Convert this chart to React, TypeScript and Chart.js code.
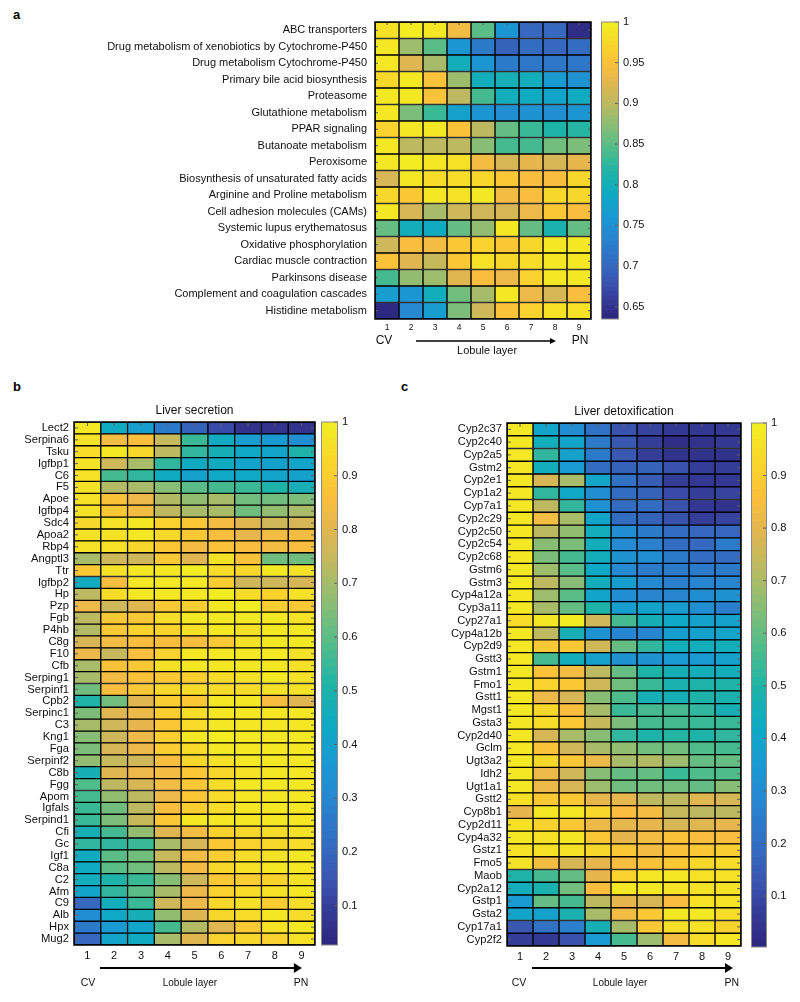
import React, { useEffect, useRef } from 'react';
import { Chart, registerables } from 'chart.js';

Chart.register(...registerables);
Chart.defaults.font.family = "'Liberation Sans', Arial, Helvetica, sans-serif";

const TEXT = '#111';
const FONT = "'Liberation Sans', Arial, Helvetica, sans-serif";

// ---------- data ----------
const LAYERS = ['1', '2', '3', '4', '5', '6', '7', '8', '9'];

const PATHWAYS = [
  'ABC transporters',
  'Drug metabolism of xenobiotics by Cytochrome-P450',
  'Drug metabolism Cytochrome-P450',
  'Primary bile acid biosynthesis',
  'Proteasome',
  'Glutathione metabolism',
  'PPAR signaling',
  'Butanoate metabolism',
  'Peroxisome',
  'Biosynthesis of unsaturated fatty acids',
  'Arginine and Proline metabolism',
  'Cell adhesion molecules (CAMs)',
  'Systemic lupus erythematosus',
  'Oxidative phosphorylation',
  'Cardiac muscle contraction',
  'Parkinsons disease',
  'Complement and coagulation cascades',
  'Histidine metabolism',
];
const PATHWAY_VALUES = [
  [0.985, 0.995, 0.99, 0.94, 0.85, 0.755, 0.7, 0.7, 0.645],
  [0.99, 0.885, 0.85, 0.755, 0.725, 0.695, 0.705, 0.7, 0.705],
  [0.99, 0.925, 0.89, 0.795, 0.755, 0.725, 0.72, 0.715, 0.72],
  [0.975, 0.99, 0.95, 0.885, 0.8, 0.805, 0.795, 0.765, 0.75],
  [0.99, 0.99, 0.95, 0.9, 0.835, 0.8, 0.79, 0.78, 0.79],
  [0.99, 0.865, 0.83, 0.775, 0.76, 0.745, 0.75, 0.748, 0.758],
  [0.97, 0.99, 0.99, 0.95, 0.9, 0.855, 0.832, 0.815, 0.82],
  [0.99, 0.9, 0.9, 0.9, 0.87, 0.835, 0.835, 0.86, 0.865],
  [0.99, 0.995, 0.99, 0.985, 0.94, 0.92, 0.93, 0.92, 0.93],
  [0.915, 0.99, 0.98, 0.98, 0.975, 0.955, 0.945, 0.948, 0.975],
  [0.975, 0.955, 0.99, 0.985, 0.99, 0.94, 0.945, 0.975, 0.975],
  [0.99, 0.915, 0.89, 0.91, 0.91, 0.915, 0.935, 0.955, 0.945],
  [0.855, 0.8, 0.79, 0.855, 0.88, 0.99, 0.855, 0.81, 0.855],
  [0.91, 0.945, 0.94, 0.955, 0.97, 0.955, 0.975, 0.99, 0.99],
  [0.95, 0.925, 0.905, 0.955, 0.985, 0.975, 0.98, 0.99, 0.99],
  [0.835, 0.88, 0.885, 0.925, 0.945, 0.935, 0.97, 0.99, 0.99],
  [0.77, 0.755, 0.795, 0.86, 0.89, 0.99, 0.935, 0.915, 0.945],
  [0.64, 0.74, 0.77, 0.865, 0.91, 0.95, 0.97, 0.985, 0.985],
];
const PATHWAY_TICKS = [0.65, 0.7, 0.75, 0.8, 0.85, 0.9, 0.95, 1];

const SECRETION_GENES = [
  'Lect2', 'Serpina6', 'Tsku', 'Igfbp1', 'C6', 'F5', 'Apoe', 'Igfbp4', 'Sdc4', 'Apoa2', 'Rbp4',
  'Angptl3', 'Ttr', 'Igfbp2', 'Hp', 'Pzp', 'Fgb', 'P4hb', 'C8g', 'F10', 'Cfb', 'Serping1',
  'Serpinf1', 'Cpb2', 'Serpinc1', 'C3', 'Kng1', 'Fga', 'Serpinf2', 'C8b', 'Fgg', 'Apom',
  'Igfals', 'Serpind1', 'Cfi', 'Gc', 'Igf1', 'C8a', 'C2', 'Afm', 'C9', 'Alb', 'Hpx', 'Mug2',
];
const SECRETION_VALUES = [
  [0.97, 0.45, 0.38, 0.27, 0.19, 0.12, 0.06, 0.07, 0.07],
  [0.96, 0.84, 0.86, 0.75, 0.55, 0.45, 0.38, 0.37, 0.33],
  [0.95, 0.97, 0.93, 0.74, 0.53, 0.47, 0.43, 0.41, 0.5],
  [0.96, 0.77, 0.7, 0.54, 0.45, 0.45, 0.41, 0.4, 0.41],
  [0.96, 0.57, 0.53, 0.44, 0.4, 0.43, 0.43, 0.41, 0.4],
  [0.96, 0.72, 0.7, 0.66, 0.6, 0.57, 0.55, 0.5, 0.47],
  [0.96, 0.87, 0.82, 0.72, 0.68, 0.7, 0.63, 0.62, 0.65],
  [0.96, 0.88, 0.84, 0.74, 0.7, 0.7, 0.62, 0.67, 0.7],
  [0.93, 0.96, 0.97, 0.92, 0.88, 0.84, 0.79, 0.77, 0.78],
  [0.96, 0.96, 0.97, 0.93, 0.88, 0.85, 0.81, 0.84, 0.84],
  [0.96, 0.96, 0.93, 0.89, 0.84, 0.87, 0.85, 0.84, 0.85],
  [0.7, 0.76, 0.77, 0.88, 0.8, 0.96, 0.87, 0.63, 0.63],
  [0.88, 0.96, 0.97, 0.97, 0.99, 0.94, 0.93, 0.98, 0.96],
  [0.45, 0.85, 0.97, 0.97, 0.97, 0.9, 0.76, 0.76, 0.78],
  [0.73, 0.95, 0.97, 0.97, 0.97, 0.99, 0.95, 0.92, 0.96],
  [0.83, 0.77, 0.8, 0.89, 0.9, 0.97, 0.99, 0.9, 0.89],
  [0.74, 0.88, 0.89, 0.94, 0.97, 0.98, 0.97, 0.97, 0.96],
  [0.72, 0.88, 0.91, 0.91, 0.96, 0.98, 0.96, 0.97, 0.97],
  [0.78, 0.84, 0.85, 0.85, 0.85, 0.88, 0.96, 0.97, 0.97],
  [0.82, 0.75, 0.85, 0.92, 0.97, 0.98, 0.97, 0.97, 0.96],
  [0.7, 0.87, 0.89, 0.96, 0.97, 0.98, 0.97, 0.97, 0.96],
  [0.7, 0.84, 0.87, 0.89, 0.9, 0.95, 0.96, 0.97, 0.96],
  [0.63, 0.85, 0.88, 0.93, 0.95, 0.95, 0.95, 0.96, 0.96],
  [0.5, 0.63, 0.8, 0.9, 0.88, 0.97, 0.98, 0.86, 0.8],
  [0.64, 0.79, 0.83, 0.9, 0.95, 0.98, 0.98, 0.97, 0.97],
  [0.7, 0.76, 0.81, 0.88, 0.95, 0.97, 0.98, 0.97, 0.97],
  [0.66, 0.76, 0.82, 0.9, 0.97, 0.99, 0.98, 0.97, 0.98],
  [0.64, 0.78, 0.82, 0.9, 0.95, 0.98, 0.98, 0.97, 0.98],
  [0.67, 0.75, 0.77, 0.86, 0.93, 0.96, 0.97, 0.97, 0.98],
  [0.47, 0.79, 0.83, 0.84, 0.89, 0.93, 0.96, 0.98, 0.98],
  [0.58, 0.73, 0.78, 0.84, 0.88, 0.95, 0.97, 0.97, 0.98],
  [0.57, 0.68, 0.74, 0.83, 0.89, 0.95, 0.97, 0.98, 0.98],
  [0.55, 0.63, 0.74, 0.86, 0.9, 0.95, 0.97, 0.97, 0.98],
  [0.55, 0.65, 0.75, 0.88, 0.98, 0.97, 0.97, 0.97, 0.97],
  [0.47, 0.57, 0.67, 0.8, 0.84, 0.92, 0.93, 0.95, 0.96],
  [0.53, 0.53, 0.55, 0.7, 0.78, 0.88, 0.92, 0.93, 0.95],
  [0.45, 0.6, 0.62, 0.75, 0.84, 0.9, 0.95, 0.96, 0.97],
  [0.44, 0.59, 0.62, 0.74, 0.84, 0.93, 0.96, 0.97, 0.97],
  [0.46, 0.5, 0.55, 0.66, 0.76, 0.89, 0.9, 0.92, 0.96],
  [0.42, 0.53, 0.6, 0.7, 0.83, 0.92, 0.95, 0.96, 0.97],
  [0.2, 0.46, 0.55, 0.76, 0.82, 0.93, 0.96, 0.9, 0.94],
  [0.33, 0.43, 0.47, 0.68, 0.8, 0.93, 0.95, 0.97, 0.95],
  [0.27, 0.37, 0.42, 0.56, 0.72, 0.8, 0.88, 0.96, 0.97],
  [0.2, 0.42, 0.45, 0.7, 0.8, 0.91, 0.93, 0.92, 0.96],
];

const DETOX_GENES = [
  'Cyp2c37', 'Cyp2c40', 'Cyp2a5', 'Gstm2', 'Cyp2e1', 'Cyp1a2', 'Cyp7a1', 'Cyp2c29', 'Cyp2c50',
  'Cyp2c54', 'Cyp2c68', 'Gstm6', 'Gstm3', 'Cyp4a12a', 'Cyp3a11', 'Cyp27a1', 'Cyp4a12b', 'Cyp2d9',
  'Gstt3', 'Gstm1', 'Fmo1', 'Gstt1', 'Mgst1', 'Gsta3', 'Cyp2d40', 'Gclm', 'Ugt3a2', 'Idh2',
  'Ugt1a1', 'Gstt2', 'Cyp8b1', 'Cyp2d11', 'Cyp4a32', 'Gstz1', 'Fmo5', 'Maob', 'Cyp2a12', 'Gstp1',
  'Gsta2', 'Cyp17a1', 'Cyp2f2',
];
const DETOX_VALUES = [
  [0.97, 0.4, 0.3, 0.22, 0.12, 0.09, 0.06, 0.05, 0.05],
  [0.97, 0.44, 0.4, 0.24, 0.13, 0.07, 0.03, 0.04, 0.05],
  [0.97, 0.53, 0.39, 0.24, 0.13, 0.08, 0.04, 0.04, 0.04],
  [0.97, 0.45, 0.36, 0.2, 0.17, 0.17, 0.12, 0.08, 0.08],
  [0.97, 0.78, 0.7, 0.4, 0.22, 0.15, 0.07, 0.05, 0.05],
  [0.97, 0.53, 0.41, 0.3, 0.2, 0.16, 0.1, 0.08, 0.09],
  [0.97, 0.72, 0.53, 0.32, 0.2, 0.19, 0.12, 0.06, 0.04],
  [0.97, 0.84, 0.7, 0.4, 0.2, 0.17, 0.12, 0.07, 0.09],
  [0.97, 0.72, 0.66, 0.44, 0.3, 0.25, 0.2, 0.18, 0.18],
  [0.97, 0.65, 0.63, 0.44, 0.29, 0.26, 0.2, 0.18, 0.24],
  [0.97, 0.63, 0.56, 0.44, 0.33, 0.31, 0.24, 0.2, 0.2],
  [0.97, 0.68, 0.58, 0.42, 0.29, 0.25, 0.24, 0.25, 0.24],
  [0.97, 0.72, 0.65, 0.45, 0.37, 0.29, 0.26, 0.27, 0.27],
  [0.97, 0.68, 0.58, 0.4, 0.3, 0.27, 0.28, 0.3, 0.32],
  [0.97, 0.69, 0.61, 0.5, 0.37, 0.4, 0.37, 0.3, 0.26],
  [0.94, 0.97, 0.99, 0.76, 0.55, 0.46, 0.41, 0.39, 0.39],
  [0.97, 0.72, 0.47, 0.32, 0.27, 0.28, 0.37, 0.39, 0.4],
  [0.97, 0.88, 0.89, 0.76, 0.61, 0.53, 0.45, 0.44, 0.45],
  [0.97, 0.55, 0.45, 0.38, 0.33, 0.32, 0.35, 0.36, 0.39],
  [0.97, 0.86, 0.83, 0.72, 0.6, 0.49, 0.46, 0.45, 0.45],
  [0.97, 0.92, 0.88, 0.76, 0.62, 0.54, 0.48, 0.49, 0.5],
  [0.97, 0.82, 0.77, 0.65, 0.57, 0.47, 0.46, 0.5, 0.48],
  [0.97, 0.93, 0.85, 0.7, 0.54, 0.55, 0.56, 0.52, 0.47],
  [0.97, 0.94, 0.88, 0.75, 0.63, 0.55, 0.55, 0.54, 0.54],
  [0.97, 0.77, 0.7, 0.65, 0.53, 0.5, 0.51, 0.5, 0.53],
  [0.97, 0.86, 0.76, 0.7, 0.66, 0.62, 0.62, 0.57, 0.55],
  [0.97, 0.93, 0.89, 0.82, 0.69, 0.71, 0.68, 0.61, 0.6],
  [0.97, 0.82, 0.76, 0.65, 0.6, 0.6, 0.54, 0.57, 0.57],
  [0.97, 0.82, 0.77, 0.68, 0.62, 0.62, 0.62, 0.61, 0.65],
  [0.96, 0.88, 0.89, 0.81, 0.8, 0.72, 0.73, 0.79, 0.77],
  [0.81, 0.97, 0.98, 0.93, 0.85, 0.84, 0.75, 0.72, 0.73],
  [0.96, 0.92, 0.88, 0.82, 0.81, 0.8, 0.77, 0.79, 0.8],
  [0.97, 0.96, 0.97, 0.88, 0.8, 0.83, 0.87, 0.85, 0.85],
  [0.96, 0.96, 0.96, 0.93, 0.89, 0.84, 0.87, 0.88, 0.9],
  [0.96, 0.84, 0.77, 0.8, 0.85, 0.86, 0.89, 0.93, 0.95],
  [0.5, 0.55, 0.6, 0.8, 0.92, 0.97, 0.97, 0.96, 0.96],
  [0.44, 0.48, 0.62, 0.85, 0.97, 0.97, 0.96, 0.96, 0.96],
  [0.36, 0.6, 0.56, 0.72, 0.8, 0.77, 0.85, 0.96, 0.96],
  [0.4, 0.38, 0.48, 0.7, 0.84, 0.89, 0.97, 0.97, 0.95],
  [0.13, 0.22, 0.26, 0.46, 0.7, 0.89, 0.96, 0.96, 0.91],
  [0.07, 0.05, 0.12, 0.36, 0.55, 0.68, 0.84, 0.95, 0.97],
];
const UNIT_TICKS = [0.1, 0.2, 0.3, 0.4, 0.5, 0.6, 0.7, 0.8, 0.9, 1];

// ---------- colormap: parula-like, as printed in the reference (anchors t, r, g, b) ----------
const CMAP_ANCHORS: number[][] = [
  [0.0, 45, 40, 128],
  [0.06, 52, 60, 152],
  [0.12, 58, 86, 176],
  [0.2, 50, 112, 196],
  [0.28, 38, 136, 210],
  [0.35, 25, 155, 210],
  [0.42, 14, 170, 196],
  [0.5, 32, 180, 166],
  [0.57, 78, 188, 140],
  [0.64, 128, 190, 120],
  [0.72, 182, 186, 98],
  [0.8, 228, 182, 80],
  [0.86, 250, 190, 60],
  [0.92, 250, 210, 45],
  [1.0, 242, 236, 34],
];
const NCOL = 64;

function anchorColor(t: number) {
  for (let k = 1; k < CMAP_ANCHORS.length; k++) {
    const a = CMAP_ANCHORS[k - 1];
    const b = CMAP_ANCHORS[k];
    if (t <= b[0]) {
      const f = (t - a[0]) / (b[0] - a[0]);
      return [1, 2, 3].map((c) => Math.round(a[c] + f * (b[c] - a[c])));
    }
  }
  const l = CMAP_ANCHORS[CMAP_ANCHORS.length - 1];
  return [l[1], l[2], l[3]];
}
function cmapIndex(i: number) {
  const [r, g, b] = anchorColor(i / (NCOL - 1));
  return `rgb(${r},${g},${b})`;
}
function cellColor(v: number, cmin: number, cmax: number) {
  let t = (v - cmin) / (cmax - cmin);
  t = Math.max(0, Math.min(1, t));
  return cmapIndex(Math.min(NCOL - 1, Math.floor(t * NCOL)));
}

// ---------- heatmap ----------
type Annot = {
  arrowDy: number; textDy: number; lobDy: number;
  cvX: number; fromX: number; toX: number; lobX: number; pnX: number;
  cvFont: number; lobFont: number; headLen: number; headW: number; lineW: number;
};

type HeatProps = {
  left: number; top: number; width: number; height: number;
  rows: string[]; values: number[][]; cmin: number; cmax: number;
  yAxisWidth: number; xAxisHeight: number; padTop: number; padRight: number;
  yFont: number; yPad: number; xFont: number; xPad: number; tickLen: number;
  title?: string; titleDy?: number; annot: Annot;
};

function Heatmap(p: HeatProps) {
  const ref = useRef<HTMLCanvasElement>(null);
  useEffect(() => {
    const datasets = LAYERS.map((_, j) => ({
      data: p.rows.map(() => 1),
      backgroundColor: p.values.map((r) => cellColor(r[j], p.cmin, p.cmax)),
      borderColor: '#000',
      borderWidth: 1,
      borderSkipped: false,
      barPercentage: 1,
      categoryPercentage: 1,
    }));
    const plugin = {
      id: 'heatAnnot',
      afterDraw(chart: any) {
        const { ctx, chartArea: a, scales } = chart;
        const xs = scales.x;
        const ys = scales.y;
        ctx.save();
        ctx.strokeStyle = '#606060';
        ctx.lineWidth = 1;
        ctx.beginPath();
        p.rows.forEach((_, i) => {
          const y = ys.getPixelForValue(i);
          ctx.moveTo(a.left, y);
          ctx.lineTo(a.left + p.tickLen, y);
          ctx.moveTo(a.right, y);
          ctx.lineTo(a.right - p.tickLen, y);
        });
        LAYERS.forEach((_, j) => {
          const x = xs.getPixelForValue(j + 0.5);
          ctx.moveTo(x, a.top);
          ctx.lineTo(x, a.top + p.tickLen);
        });
        ctx.stroke();
        ctx.strokeStyle = '#000';
        ctx.lineWidth = 1.5;
        ctx.strokeRect(a.left, a.top, a.right - a.left, a.bottom - a.top);

        ctx.fillStyle = TEXT;
        ctx.textBaseline = 'middle';
        ctx.textAlign = 'center';
        if (p.title) {
          ctx.font = `12px ${FONT}`;
          ctx.fillText(p.title, (a.left + a.right) / 2, a.top - (p.titleDy || 11));
        }
        const an = p.annot;
        ctx.font = `${an.cvFont}px ${FONT}`;
        ctx.fillText('CV', xs.getPixelForValue(an.cvX), a.bottom + an.textDy);
        ctx.fillText('PN', xs.getPixelForValue(an.pnX), a.bottom + an.textDy);
        ctx.font = `${an.lobFont}px ${FONT}`;
        ctx.fillText('Lobule layer', xs.getPixelForValue(an.lobX), a.bottom + an.lobDy);
        const ay = a.bottom + an.arrowDy;
        const x0 = xs.getPixelForValue(an.fromX);
        const x1 = xs.getPixelForValue(an.toX);
        ctx.strokeStyle = '#000';
        ctx.lineWidth = an.lineW;
        ctx.beginPath();
        ctx.moveTo(x0, ay);
        ctx.lineTo(x1 - an.headLen + 1, ay);
        ctx.stroke();
        ctx.fillStyle = '#000';
        ctx.beginPath();
        ctx.moveTo(x1, ay);
        ctx.lineTo(x1 - an.headLen, ay - an.headW / 2);
        ctx.lineTo(x1 - an.headLen, ay + an.headW / 2);
        ctx.closePath();
        ctx.fill();
        ctx.restore();
      },
    };
    const chart = new Chart(ref.current as HTMLCanvasElement, {
      type: 'bar',
      data: { labels: p.rows, datasets: datasets as any },
      options: {
        indexAxis: 'y',
        animation: false,
        responsive: false,
        events: [],
        layout: { padding: { top: p.padTop, right: p.padRight, left: 0, bottom: 0 } },
        plugins: { legend: { display: false }, tooltip: { enabled: false } },
        scales: {
          x: {
            type: 'linear',
            stacked: true,
            min: 0,
            max: 9,
            grid: { display: false, drawTicks: false },
            border: { display: false },
            afterBuildTicks: (s: any) => {
              s.ticks = LAYERS.map((_, i) => ({ value: i + 0.5 }));
            },
            afterFit: (s: any) => {
              s.height = p.xAxisHeight;
            },
            ticks: {
              autoSkip: false,
              maxRotation: 0,
              padding: p.xPad,
              font: { size: p.xFont },
              color: TEXT,
              callback: (_v: any, i: number) => LAYERS[i],
            },
          },
          y: {
            type: 'category',
            stacked: true,
            grid: { display: false, drawTicks: false },
            border: { display: false },
            afterFit: (s: any) => {
              s.width = p.yAxisWidth;
            },
            ticks: { autoSkip: false, padding: p.yPad, font: { size: p.yFont }, color: TEXT },
          },
        },
      } as any,
      plugins: [plugin],
    });
    return () => chart.destroy();
  }, []);
  return (
    <canvas
      ref={ref}
      width={p.width}
      height={p.height}
      style={{ position: 'absolute', left: p.left, top: p.top }}
    />
  );
}

// ---------- colorbar ----------
type CbProps = {
  left: number; top: number; width: number; height: number;
  cmin: number; cmax: number; ticks: number[];
  padTop: number; padLeft: number; padBottom: number; axisWidth: number; font: number;
};

function Colorbar(p: CbProps) {
  const ref = useRef<HTMLCanvasElement>(null);
  useEffect(() => {
    const plugin = {
      id: 'cbAnnot',
      afterDraw(chart: any) {
        const { ctx, chartArea: a, scales } = chart;
        ctx.save();
        ctx.strokeStyle = '#606060';
        ctx.lineWidth = 1;
        ctx.beginPath();
        p.ticks.forEach((v) => {
          const y = scales.y.getPixelForValue(v);
          ctx.moveTo(a.right, y);
          ctx.lineTo(a.right - 4, y);
        });
        ctx.stroke();
        ctx.strokeStyle = '#8a8a8a';
        ctx.strokeRect(a.left + 0.5, a.top, a.right - a.left - 1, a.bottom - a.top);
        ctx.restore();
      },
    };
    const chart = new Chart(ref.current as HTMLCanvasElement, {
      type: 'bar',
      data: {
        labels: [''],
        datasets: [
          {
            data: [[p.cmin, p.cmax]],
            backgroundColor: (c: any) => {
              const area = c.chart.chartArea;
              if (!area) return '#888';
              const g = c.chart.ctx.createLinearGradient(0, area.bottom, 0, area.top);
              for (let i = 0; i < NCOL; i++) {
                const col = cmapIndex(i);
                g.addColorStop(i / NCOL, col);
                g.addColorStop(Math.min(1, (i + 1) / NCOL - 0.0001), col);
              }
              return g;
            },
            borderWidth: 0,
            barPercentage: 1,
            categoryPercentage: 1,
          },
        ],
      },
      options: {
        animation: false,
        responsive: false,
        events: [],
        layout: { padding: { top: p.padTop, left: p.padLeft, bottom: p.padBottom, right: 0 } },
        plugins: { legend: { display: false }, tooltip: { enabled: false } },
        scales: {
          x: { display: false },
          y: {
            position: 'right',
            min: p.cmin,
            max: p.cmax,
            grid: { display: false, drawTicks: false },
            border: { display: false },
            afterBuildTicks: (s: any) => {
              s.ticks = p.ticks.map((v) => ({ value: v }));
            },
            afterFit: (s: any) => {
              s.width = p.axisWidth;
            },
            ticks: {
              padding: 4,
              font: { size: p.font },
              color: TEXT,
              callback: (v: any) => String(+(+v).toFixed(2)),
            },
          },
        },
      } as any,
      plugins: [plugin],
    });
    return () => chart.destroy();
  }, []);
  return (
    <canvas
      ref={ref}
      width={p.width}
      height={p.height}
      style={{ position: 'absolute', left: p.left, top: p.top }}
    />
  );
}

const labelStyle = (left: number, top: number): React.CSSProperties => ({
  position: 'absolute',
  left,
  top,
  fontFamily: FONT,
  fontWeight: 'bold',
  fontSize: 13,
  color: '#000',
  lineHeight: '14px',
});

export default function App() {
  return (
    <div style={{ position: 'absolute', left: 0, top: 0, width: 800, height: 1002, background: '#fff', overflow: 'hidden' }}>
      <div style={labelStyle(13, 8)}>a</div>
      <div style={labelStyle(13, 380)}>b</div>
      <div style={labelStyle(401, 380)}>c</div>

      <Heatmap
        left={0} top={0} width={600} height={370}
        rows={PATHWAYS} values={PATHWAY_VALUES} cmin={0.635} cmax={1}
        yAxisWidth={375} xAxisHeight={51} padTop={22} padRight={9}
        yFont={11} yPad={8} xFont={8.5} xPad={4} tickLen={3}
        annot={{ arrowDy: 22, textDy: 22, lobDy: 32, cvX: 0.375, fromX: 1.71, toX: 7.54, lobX: 4.67, pnX: 8.54,
          cvFont: 12, lobFont: 11, headLen: 6, headW: 6, lineW: 1.5 }}
      />
      <Colorbar
        left={595} top={0} width={80} height={340}
        cmin={0.635} cmax={1} ticks={PATHWAY_TICKS}
        padTop={22} padLeft={6} padBottom={21} axisWidth={56} font={11}
      />

      <Heatmap
        left={0} top={395} width={320} height={607}
        rows={SECRETION_GENES} values={SECRETION_VALUES} cmin={0.027} cmax={1}
        yAxisWidth={74} xAxisHeight={57} padTop={27} padRight={5}
        yFont={11.2} yPad={5} xFont={11} xPad={4} tickLen={4}
        title="Liver secretion" titleDy={11}
        annot={{ arrowDy: 23, textDy: 38, lobDy: 38, cvX: 0.52, fromX: 0.97, toX: 8.51, lobX: 4.33, pnX: 8.48,
          cvFont: 10.5, lobFont: 10, headLen: 8, headW: 10, lineW: 2 }}
      />
      <Colorbar
        left={315} top={395} width={60} height={607}
        cmin={0.027} cmax={1} ticks={UNIT_TICKS}
        padTop={27} padLeft={6} padBottom={57} axisWidth={37} font={11.2}
      />

      <Heatmap
        left={400} top={395} width={345} height={607}
        rows={DETOX_GENES} values={DETOX_VALUES} cmin={0.003} cmax={1}
        yAxisWidth={107} xAxisHeight={56} padTop={28} padRight={4}
        yFont={11.2} yPad={5} xFont={11} xPad={4} tickLen={4}
        title="Liver detoxification" titleDy={11}
        annot={{ arrowDy: 22, textDy: 37, lobDy: 37, cvX: 0.46, fromX: 0.96, toX: 8.69, lobX: 4.35, pnX: 8.65,
          cvFont: 10.5, lobFont: 10, headLen: 8, headW: 10, lineW: 2 }}
      />
      <Colorbar
        left={745} top={395} width={55} height={607}
        cmin={0.003} cmax={1} ticks={UNIT_TICKS}
        padTop={28} padLeft={6} padBottom={55} axisWidth={33} font={11.2}
      />
    </div>
  );
}
